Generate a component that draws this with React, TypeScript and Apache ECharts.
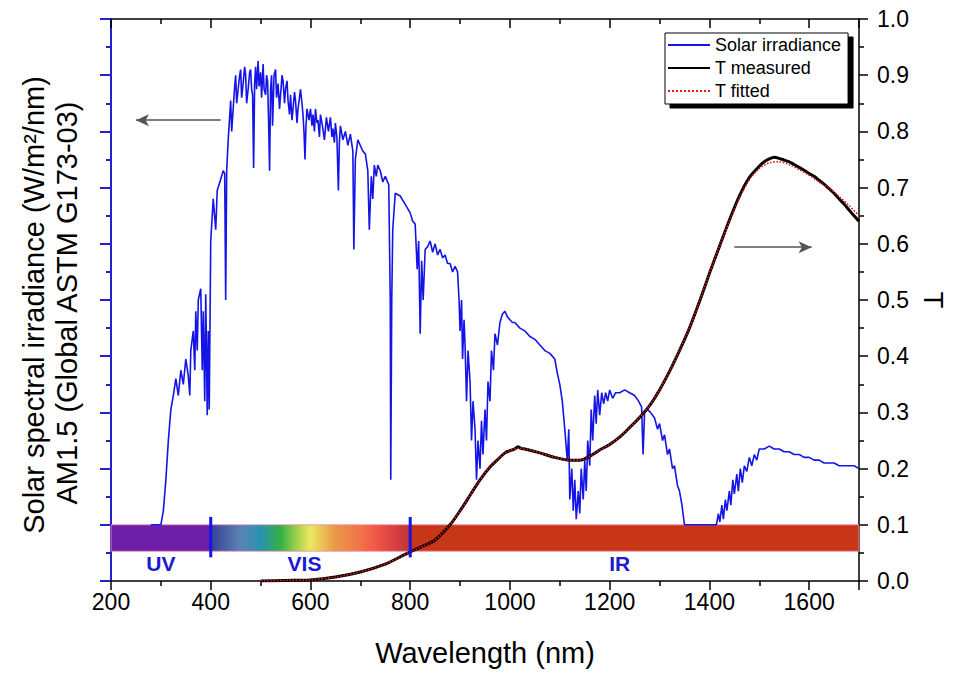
import React, { useEffect, useRef } from "react";
import * as echarts from "echarts";

// ---------- data ----------
// Solar spectral irradiance, AM1.5 global (W/m²/nm)
const irradiance: [number, number][] = [
  [280, 0], [300, 0], [305, 0.05], [310, 0.16], [315, 0.3], [320, 0.41], [325, 0.46], [330, 0.52],
  [335, 0.46], [340, 0.55], [345, 0.5], [350, 0.59], [355, 0.53], [358, 0.46], [360, 0.62], [365, 0.69],
  [368, 0.55], [370, 0.76], [373, 0.62], [375, 0.8], [380, 0.84], [383, 0.55], [385, 0.76], [388, 0.44],
  [390, 0.82], [393, 0.39], [395, 0.69], [397, 0.41], [400, 1.01], [405, 1.16], [410, 1.05], [413, 1.19],
  [420, 1.23], [425, 1.26], [428, 1.25], [430, 0.8], [432, 1.26], [435, 1.37], [440, 1.51], [442, 1.4],
  [445, 1.48], [448, 1.56], [450, 1.6], [452, 1.5], [455, 1.55], [458, 1.6], [460, 1.62], [462, 1.52],
  [465, 1.57], [468, 1.63], [470, 1.6], [472, 1.5], [475, 1.55], [478, 1.61], [480, 1.62], [482, 1.55],
  [484, 1.53], [486, 1.27], [488, 1.57], [490, 1.63], [492, 1.55], [495, 1.65], [497, 1.56], [500, 1.61],
  [502, 1.52], [505, 1.64], [507, 1.55], [510, 1.53], [512, 1.6], [514, 1.58], [516, 1.44], [518, 1.26],
  [520, 1.55], [522, 1.6], [524, 1.42], [527, 1.6], [530, 1.62], [532, 1.52], [535, 1.57], [538, 1.48],
  [540, 1.53], [543, 1.6], [545, 1.58], [548, 1.5], [550, 1.55], [553, 1.58], [555, 1.51], [558, 1.46],
  [560, 1.53], [563, 1.44], [565, 1.48], [568, 1.54], [570, 1.51], [573, 1.43], [575, 1.48], [578, 1.52],
  [580, 1.55], [583, 1.5], [585, 1.46], [587, 1.4], [589, 1.3], [591, 1.42], [593, 1.48], [597, 1.44],
  [600, 1.48], [603, 1.42], [605, 1.46], [608, 1.4], [610, 1.48], [613, 1.43], [615, 1.44], [618, 1.38],
  [620, 1.46], [624, 1.42], [628, 1.37], [632, 1.45], [636, 1.4], [640, 1.45], [643, 1.38], [645, 1.41],
  [648, 1.36], [650, 1.43], [653, 1.38], [656, 1.19], [658, 1.36], [660, 1.42], [665, 1.37], [670, 1.4],
  [675, 1.35], [680, 1.39], [685, 1.33], [687, 0.98], [690, 1.3], [695, 1.37], [700, 1.35], [705, 1.33],
  [710, 1.32], [715, 1.26], [718, 1.05], [722, 1.24], [725, 1.16], [728, 1.28], [732, 1.24], [735, 1.28],
  [740, 1.26], [745, 1.22], [750, 1.24], [757, 1.21], [760, 0.8], [761, 0.16], [763, 0.8], [765, 1.05],
  [770, 1.18], [780, 1.17], [790, 1.14], [800, 1.11], [805, 1.08], [810, 1.07], [814, 0.91], [817, 1.01],
  [820, 0.68], [823, 0.94], [826, 0.8], [830, 0.98], [835, 0.99], [840, 1.01], [845, 0.97], [850, 1.0],
  [855, 0.96], [860, 0.98], [865, 0.95], [870, 0.96], [875, 0.93], [880, 0.93], [885, 0.9], [890, 0.92],
  [895, 0.9], [898, 0.8], [900, 0.69], [903, 0.8], [905, 0.59], [908, 0.73], [910, 0.64], [913, 0.44],
  [916, 0.62], [920, 0.51], [923, 0.3], [926, 0.44], [930, 0.34], [933, 0.16], [936, 0.3], [940, 0.2],
  [943, 0.37], [946, 0.25], [950, 0.41], [953, 0.3], [956, 0.51], [960, 0.44], [963, 0.62], [967, 0.55],
  [970, 0.68], [975, 0.64], [980, 0.72], [985, 0.75], [990, 0.76], [995, 0.74], [1000, 0.73], [1005, 0.72],
  [1010, 0.72], [1020, 0.7], [1030, 0.69], [1040, 0.67], [1050, 0.66], [1060, 0.64], [1070, 0.62],
  [1080, 0.61], [1090, 0.59], [1095, 0.54], [1100, 0.5], [1105, 0.44], [1110, 0.34], [1115, 0.23],
  [1118, 0.34], [1120, 0.09], [1124, 0.2], [1127, 0.05], [1130, 0.16], [1133, 0.02], [1137, 0.12],
  [1140, 0.04], [1143, 0.2], [1147, 0.09], [1150, 0.23], [1153, 0.12], [1156, 0.3], [1160, 0.21],
  [1163, 0.41], [1166, 0.3], [1170, 0.46], [1173, 0.36], [1176, 0.48], [1180, 0.39], [1184, 0.47],
  [1188, 0.43], [1192, 0.47], [1196, 0.44], [1200, 0.48], [1206, 0.45], [1212, 0.47], [1220, 0.47],
  [1230, 0.48], [1240, 0.47], [1250, 0.46], [1258, 0.44], [1264, 0.42], [1267, 0.25], [1270, 0.4],
  [1276, 0.41], [1282, 0.4], [1290, 0.38], [1296, 0.34], [1300, 0.36], [1306, 0.3], [1310, 0.32],
  [1316, 0.25], [1320, 0.27], [1326, 0.2], [1330, 0.21], [1336, 0.14], [1340, 0.12], [1345, 0.07],
  [1350, 0], [1414, 0], [1418, 0.04], [1421, 0.01], [1425, 0.07], [1428, 0.02], [1432, 0.09], [1435, 0.05],
  [1440, 0.12], [1443, 0.07], [1447, 0.16], [1450, 0.11], [1455, 0.18], [1458, 0.12], [1462, 0.2],
  [1466, 0.15], [1470, 0.21], [1475, 0.19], [1480, 0.24], [1485, 0.21], [1490, 0.25], [1495, 0.23],
  [1500, 0.27], [1510, 0.27], [1520, 0.28], [1530, 0.27], [1540, 0.27], [1550, 0.26], [1560, 0.26],
  [1570, 0.25], [1580, 0.25], [1590, 0.24], [1600, 0.24], [1610, 0.23], [1620, 0.23], [1630, 0.22],
  [1640, 0.22], [1650, 0.22], [1660, 0.21], [1670, 0.21], [1680, 0.21], [1690, 0.21], [1700, 0.2],
];

// Transmittance T, measured
const tMeasured: [number, number][] = [
  [500, 0], [550, 0.001], [600, 0.002], [650, 0.007], [700, 0.016], [750, 0.03], [780, 0.043],
  [800, 0.052], [820, 0.06], [850, 0.073], [880, 0.1], [900, 0.125], [914, 0.144], [940, 0.18],
  [960, 0.203], [974, 0.215], [990, 0.228], [1000, 0.232], [1010, 0.235], [1016, 0.239], [1022, 0.236],
  [1030, 0.235], [1060, 0.228], [1090, 0.22], [1120, 0.215], [1140, 0.215], [1160, 0.222], [1180, 0.233],
  [1200, 0.243], [1220, 0.256], [1240, 0.273], [1260, 0.291], [1280, 0.312], [1300, 0.34], [1320, 0.373],
  [1340, 0.41], [1360, 0.45], [1380, 0.497], [1400, 0.547], [1420, 0.595], [1440, 0.642], [1460, 0.685],
  [1480, 0.718], [1500, 0.738], [1510, 0.746], [1520, 0.751], [1530, 0.754], [1540, 0.752], [1550, 0.749],
  [1560, 0.746], [1570, 0.741], [1580, 0.736], [1590, 0.731], [1600, 0.725], [1610, 0.72], [1620, 0.713],
  [1630, 0.706], [1640, 0.698], [1650, 0.69], [1660, 0.68], [1670, 0.671], [1680, 0.66], [1690, 0.65],
  [1695, 0.645], [1700, 0.64],
];

// Transmittance T, fitted
const tFitted: [number, number][] = [
  [500, 0], [550, 0.001], [600, 0.002], [650, 0.007], [700, 0.016], [750, 0.03], [780, 0.043],
  [800, 0.052], [820, 0.06], [850, 0.073], [880, 0.1], [900, 0.125], [914, 0.144], [940, 0.18],
  [960, 0.203], [974, 0.215], [990, 0.228], [1000, 0.232], [1016, 0.236], [1030, 0.235], [1060, 0.228],
  [1090, 0.22], [1120, 0.215], [1140, 0.215], [1160, 0.222], [1180, 0.233], [1200, 0.243], [1220, 0.256],
  [1240, 0.273], [1260, 0.291], [1280, 0.312], [1300, 0.34], [1320, 0.373], [1340, 0.41], [1360, 0.45],
  [1380, 0.497], [1400, 0.547], [1420, 0.595], [1440, 0.64], [1460, 0.681], [1480, 0.714], [1500, 0.734],
  [1520, 0.744], [1540, 0.746], [1560, 0.741], [1580, 0.732], [1600, 0.722], [1620, 0.71], [1640, 0.699],
  [1660, 0.684], [1680, 0.668], [1700, 0.65],
];

// spectral regions: [start nm, end nm]
const regionNames = ["UV", "VIS", "IR"];
const regionRanges: [number, number][] = [[200, 400], [400, 800], [800, 1700]];
const regionLabelAt = [300, 588, 1220];
const regionEdges = [400, 800];

// arrows: [x from, x to, T level]
const arrows: [number, number, number][] = [[420, 250, 0.82], [1450, 1605, 0.594]];

const legendNames = ["Solar irradiance", "T measured", "T fitted"];

// ---------- styling constants ----------
const FONT = "'Liberation Sans', Arial, sans-serif";
const BLUE = "#1414e6";
const AXIS_BLUE = "#2222c8";
const BAR_LOW = 0.053;
const BAR_HIGH = 0.1;
const UV_COLOR = "#6e1fa8";
const IR_COLOR = "#c83618";
const VIS_STOPS = [
  { offset: 0, color: "#3a3f95" },
  { offset: 0.15, color: "#5a84b4" },
  { offset: 0.25, color: "#2a92b0" },
  { offset: 0.35, color: "#34b046" },
  { offset: 0.45, color: "#b8d850" },
  { offset: 0.5, color: "#ece862" },
  { offset: 0.62, color: "#e89a48" },
  { offset: 0.75, color: "#f07448" },
  { offset: 0.82, color: "#f25a48" },
  { offset: 0.92, color: "#d64040" },
  { offset: 1, color: "#c03530" },
];

export default function App() {
  const ref = useRef<HTMLDivElement>(null);

  useEffect(() => {
    if (!ref.current) return;
    const chart = echarts.init(ref.current, undefined, { renderer: "svg" });

    const option: any = {
      animation: false,
      backgroundColor: "#ffffff",
      textStyle: { fontFamily: FONT },
      grid: { left: 111, right: 96, top: 19, bottom: 93 },
      legend: {
        data: legendNames,
        orient: "vertical",
        left: 665,
        top: 33,
        padding: [3, 7, 4, 2],
        itemGap: 5,
        itemWidth: 42,
        itemHeight: 14,
        backgroundColor: "#ffffff",
        borderColor: "#000",
        borderWidth: 1,
        borderRadius: 0,
        shadowColor: "#000",
        shadowBlur: 0,
        shadowOffsetX: 5,
        shadowOffsetY: 4,
        itemStyle: { opacity: 0 },
        textStyle: { fontSize: 18, color: "#000", fontFamily: FONT },
      },
      xAxis: [
        {
          type: "value",
          position: "bottom",
          min: 200,
          max: 1700,
          interval: 200,
          name: "Wavelength (nm)",
          nameLocation: "middle",
          nameGap: 57,
          nameTextStyle: { fontSize: 29, color: "#000", fontFamily: FONT },
          axisLine: { show: true, onZero: false, lineStyle: { color: "#000", width: 1.5 } },
          axisTick: { show: true, inside: false, length: 9, lineStyle: { color: "#000", width: 1.5 } },
          minorTick: { show: true, splitNumber: 2, length: 5, lineStyle: { color: "#000", width: 1.5 } },
          axisLabel: {
            fontSize: 23,
            color: "#000",
            margin: 9,
            showMaxLabel: false,
            formatter: (v: number) => String(v),
          },
          splitLine: { show: false },
        },
        {
          type: "value",
          position: "top",
          min: 200,
          max: 1700,
          interval: 200,
          axisLine: { show: true, onZero: false, lineStyle: { color: "#000", width: 1.5 } },
          axisTick: { show: true, inside: true, length: 9, lineStyle: { color: "#000", width: 1.5 } },
          minorTick: { show: true, splitNumber: 2, length: 5, lineStyle: { color: "#000", width: 1.5 } },
          axisLabel: { show: false },
          splitLine: { show: false },
        },
      ],
      yAxis: [
        {
          type: "value",
          position: "left",
          min: -0.2,
          max: 1.8,
          interval: 0.2,
          axisLine: { show: true, onZero: false, lineStyle: { color: AXIS_BLUE, width: 2 } },
          axisTick: { show: true, inside: false, length: 11, lineStyle: { color: AXIS_BLUE, width: 2 } },
          minorTick: { show: true, splitNumber: 2, length: 5, lineStyle: { color: AXIS_BLUE, width: 2 } },
          axisLabel: { show: false },
          splitLine: { show: false },
        },
        {
          type: "value",
          position: "right",
          min: 0,
          max: 1,
          interval: 0.1,
          name: "T",
          nameLocation: "middle",
          nameRotate: -90,
          nameGap: 60,
          nameTextStyle: { fontSize: 27, color: "#000", fontFamily: FONT },
          axisLine: { show: true, onZero: false, lineStyle: { color: "#000", width: 1.5 } },
          axisTick: { show: true, inside: false, length: 9, lineStyle: { color: "#000", width: 1.5 } },
          minorTick: { show: true, splitNumber: 2, length: 5, lineStyle: { color: "#000", width: 1.5 } },
          axisLabel: {
            fontSize: 23,
            color: "#000",
            margin: 18,
            formatter: (v: number) => v.toFixed(1),
          },
          splitLine: { show: false },
        },
      ],
      graphic: [
        {
          type: "text",
          x: 34,
          y: 305,
          rotation: Math.PI / 2,
          style: {
            text: "Solar spectral irradiance (W/m\u00b2/nm)",
            font: `29px ${FONT}`,
            fill: "#000",
            align: "center",
            verticalAlign: "middle",
          },
        },
        {
          type: "text",
          x: 67,
          y: 303,
          rotation: Math.PI / 2,
          style: {
            text: "AM1.5 (Global ASTM G173-03)",
            font: `29px ${FONT}`,
            fill: "#000",
            align: "center",
            verticalAlign: "middle",
          },
        },
      ],
      series: [
        {
          type: "custom",
          name: "bands",
          xAxisIndex: 0,
          yAxisIndex: 1,
          z: 1,
          silent: true,
          data: regionRanges.map((r) => [r[0], r[1]]),
          renderItem: (params: any, api: any) => {
            const a = api.coord([api.value(0), BAR_HIGH]);
            const b = api.coord([api.value(1), BAR_LOW]);
            const i = params.dataIndex;
            const fill =
              i === 0
                ? UV_COLOR
                : i === 1
                ? new echarts.graphic.LinearGradient(0, 0, 1, 0, VIS_STOPS)
                : IR_COLOR;
            return {
              type: "rect",
              shape: { x: a[0], y: a[1], width: b[0] - a[0], height: b[1] - a[1] },
              style: { fill, stroke: "#f08ab8", lineWidth: 0.8 },
            };
          },
        },
        {
          type: "line",
          name: "Solar irradiance",
          xAxisIndex: 0,
          yAxisIndex: 0,
          z: 3,
          data: irradiance,
          symbol: "none",
          lineStyle: { color: BLUE, width: 1.6 },
          itemStyle: { color: BLUE },
        },
        {
          type: "line",
          name: "T measured",
          xAxisIndex: 0,
          yAxisIndex: 1,
          z: 4,
          data: tMeasured,
          symbol: "none",
          smooth: 0.3,
          lineStyle: { color: "#000", width: 3 },
          itemStyle: { color: "#000" },
        },
        {
          type: "line",
          name: "T fitted",
          xAxisIndex: 0,
          yAxisIndex: 1,
          z: 5,
          data: tFitted,
          symbol: "none",
          smooth: 0.3,
          lineStyle: { color: "#e01818", width: 1.6, type: "dotted" },
          itemStyle: { color: "#e01818" },
        },
        {
          type: "custom",
          name: "edges",
          xAxisIndex: 0,
          yAxisIndex: 1,
          z: 6,
          silent: true,
          data: regionEdges.map((e) => [e]),
          renderItem: (_p: any, api: any) => {
            const a = api.coord([api.value(0), 0.114]);
            const b = api.coord([api.value(0), 0.042]);
            return {
              type: "line",
              shape: { x1: a[0], y1: a[1], x2: b[0], y2: b[1] },
              style: { stroke: BLUE, lineWidth: 3 },
            };
          },
        },
        {
          type: "custom",
          name: "labels",
          xAxisIndex: 0,
          yAxisIndex: 1,
          z: 6,
          silent: true,
          data: regionLabelAt.map((x, i) => [x, i]),
          renderItem: (params: any, api: any) => {
            const p = api.coord([api.value(0), 0.031]);
            return {
              type: "text",
              x: p[0],
              y: p[1],
              style: {
                text: regionNames[params.dataIndex],
                font: `bold 21px ${FONT}`,
                fill: "#1a1ad2",
                align: "center",
                verticalAlign: "middle",
              },
            };
          },
        },
        {
          type: "line",
          name: "arrows",
          xAxisIndex: 0,
          yAxisIndex: 1,
          data: [],
          silent: true,
          markLine: {
            silent: true,
            animation: false,
            symbol: ["none", "arrow"],
            symbolSize: [9, 13],
            label: { show: false },
            lineStyle: { color: "#555", width: 1.5, type: "solid" },
            data: arrows.map((a) => [{ coord: [a[0], a[2]] }, { coord: [a[1], a[2]] }]),
          },
        },
      ],
    };

    chart.setOption(option);
    return () => chart.dispose();
  }, []);

  return (
    <div
      ref={ref}
      style={{ position: "fixed", left: 0, top: 0, width: 955, height: 674, background: "#fff" }}
    />
  );
}
